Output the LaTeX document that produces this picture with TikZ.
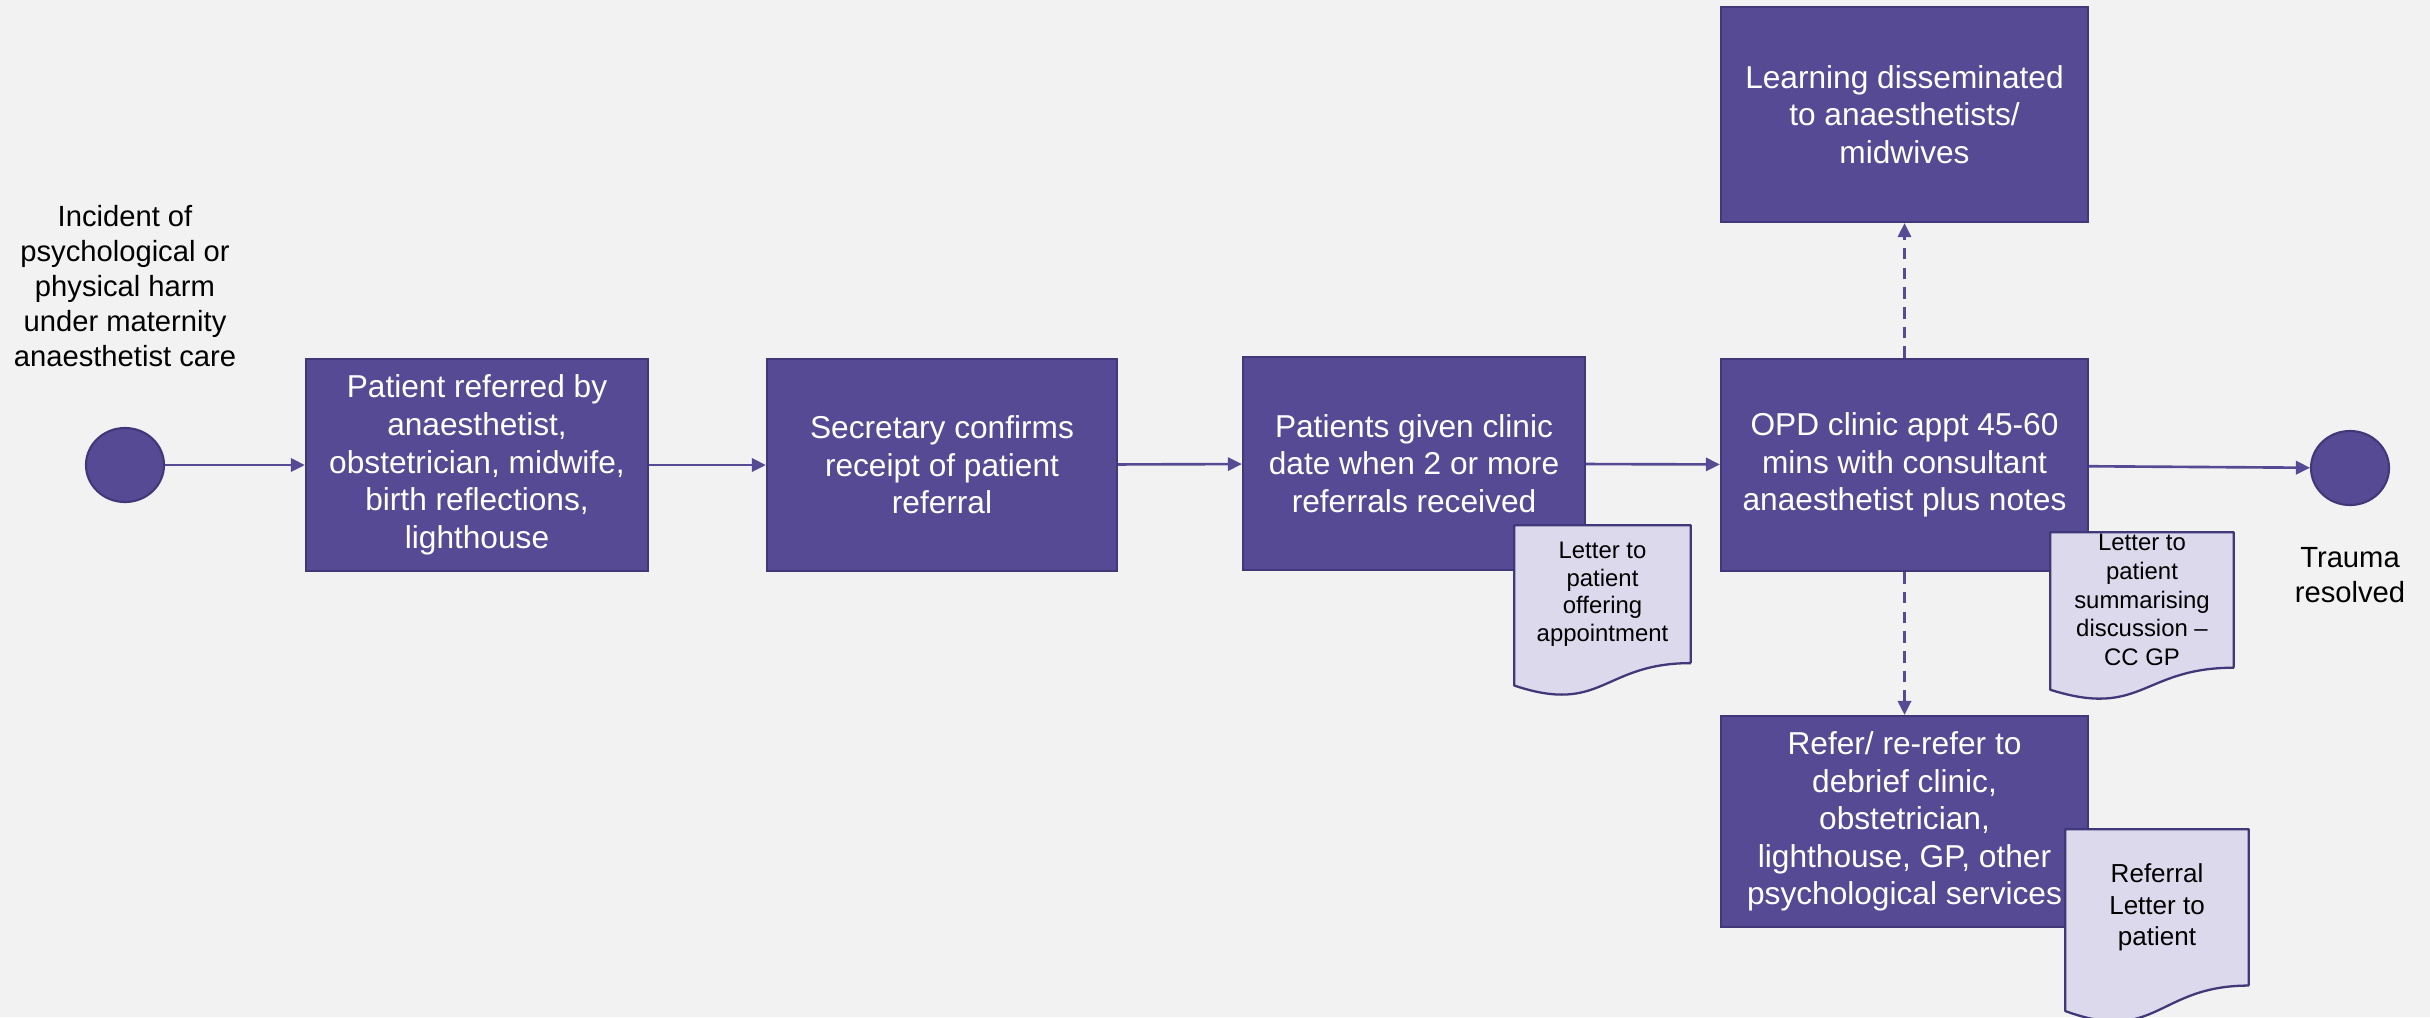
\documentclass[tikz,border=0pt]{standalone}
\usepackage{fontspec}
\setmainfont{Liberation Sans}
\usetikzlibrary{arrows.meta,shapes.geometric,calc}
\definecolor{bgcol}{RGB}{242,242,242}
\definecolor{boxcol}{RGB}{87,74,148}
\definecolor{edgecol}{RGB}{64,56,120}
\definecolor{doccol}{RGB}{220,217,236}
\newcommand{\docwave}[2]{%
  \fill[doccol] ($(#1.south west)+(0,-2)$) -- ($(#1.south east)+(0,-2)$) -- (#1.south east) .. controls (#1.south) and ($(#1.south)+(0,{0.3055*#2})$) .. ($(#1.south west)+(0,{0.132*#2})$) -- cycle;
  \draw[edgecol,line width=0.65pt,line join=round] (#1.south east) -- (#1.north east) -- (#1.north west) -- ($(#1.south west)+(0,{0.132*#2})$) .. controls ($(#1.south)+(0,{0.3055*#2})$) and (#1.south) .. (#1.south east);}

\begin{document}
\begin{tikzpicture}[x=0.01cm,y=-0.01cm,
  proc/.style={draw=edgecol,line width=0.6pt,fill=boxcol,text=white,align=center,inner sep=0pt,minimum height=2.12cm,font=\fontsize{9}{10.7}\selectfont},
  endpoint/.style={ellipse,draw=edgecol,line width=0.6pt,fill=boxcol,minimum width=0.78cm,minimum height=0.74cm,inner sep=0pt},
  caption/.style={align=center,inner sep=0pt,font=\fontsize{8.3}{9.9}\selectfont},
  letter/.style={fill=doccol,align=center,inner sep=0pt},
  flow/.style={draw=boxcol,line width=0.75pt,-{Triangle[length=4pt,width=3.8pt]}},
  branch/.style={flow,dash pattern=on 3.3pt off 2.3pt}]
\path[use as bounding box,fill=bgcol] (0,0) rectangle (2430,1017);

\node[endpoint] (start) at (125,465) {};
\node[caption] (incident) at (125,286) {Incident of\\psychological or\\physical harm\\under maternity\\anaesthetist care};
\node[proc,minimum width=3.42cm] (referral) at (477,465) {Patient referred by\\anaesthetist,\\obstetrician, midwife,\\birth reflections,\\lighthouse};
\node[proc,minimum width=3.50cm] (secretary) at (942,465) {Secretary confirms\\receipt of patient\\referral};
\node[proc,minimum width=3.42cm,minimum height=2.13cm] (clinicdate) at (1414,463.5) {Patients given clinic\\date when 2 or more\\referrals received};
\node[proc,minimum width=3.67cm] (opd) at (1904.5,465) {OPD clinic appt 45-60\\mins with consultant\\anaesthetist plus notes};
\node[proc,minimum width=3.67cm,minimum height=2.15cm] (learning) at (1904.5,114.5) {Learning disseminated\\to anaesthetists/\\midwives};
\node[proc,minimum width=3.67cm,minimum height=2.11cm] (rerefer) at (1904.5,821.5) {Refer/ re-refer to\\debrief clinic,\\obstetrician,\\lighthouse, GP, other\\psychological services};
\node[endpoint] (resolved) at (2350,468) {};
\node[caption] (trauma) at (2350,575) {Trauma\\resolved};

\node[letter,minimum width=1.75cm,minimum height=1.363cm,font=\fontsize{6.8}{7.9}\selectfont] (offer) at (1602.5,594.2) {Letter to\\patient\\offering\\appointment};
\docwave{offer}{170}
\node[letter,minimum width=1.82cm,minimum height=1.339cm,font=\fontsize{6.8}{8.2}\selectfont] (summary) at (2142,600) {Letter to\\patient\\summarising\\discussion --\\CC GP};
\docwave{summary}{167}
\node[letter,minimum width=1.82cm,minimum height=1.548cm,font=\fontsize{7.4}{8.9}\selectfont] (refletter) at (2157,907.4) {Referral\\Letter to\\patient};
\docwave{refletter}{193}

\draw[flow] (start) -- (referral);
\draw[flow] (referral) -- (secretary);
\draw[flow] (secretary) -- (clinicdate);
\draw[flow] (clinicdate) -- (opd);
\draw[flow] (opd) -- (resolved);
\draw[branch] (opd) -- (learning);
\draw[branch] (opd) -- (rerefer);
\end{tikzpicture}
\end{document}
